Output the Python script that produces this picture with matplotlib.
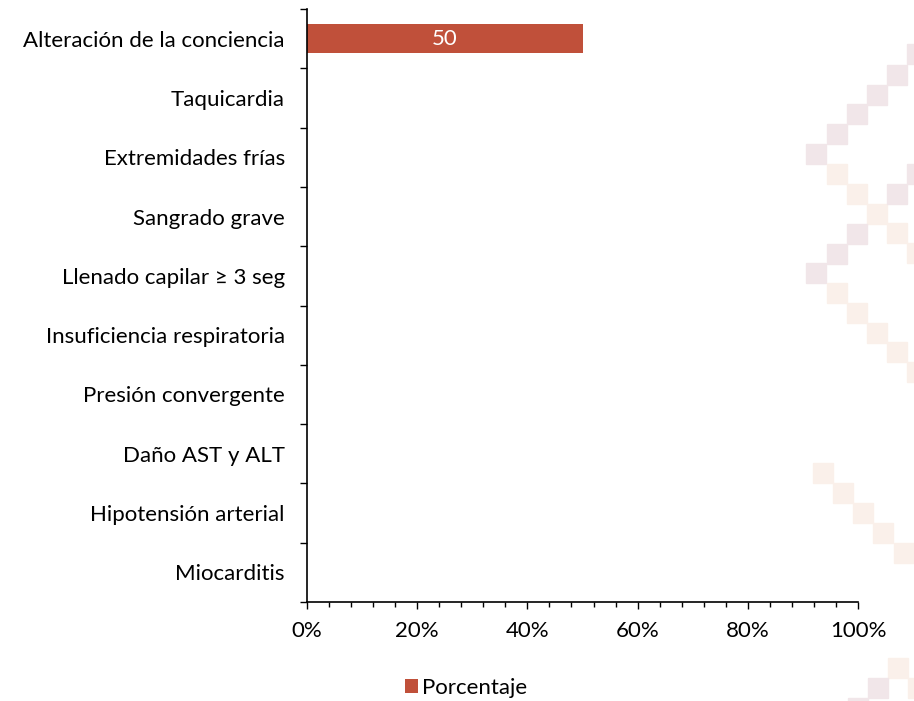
import matplotlib.pyplot as plt
from matplotlib.patches import Rectangle
from matplotlib.ticker import MultipleLocator, FuncFormatter

plt.rcParams['font.family'] = ['Lato', 'DejaVu Sans']

# Data
categories = ["Alteración de la conciencia", "Taquicardia", "Extremidades frías",
              "Sangrado grave", "Llenado capilar ≥ 3 seg", "Insuficiencia respiratoria",
              "Presión convergente", "Daño AST y ALT", "Hipotensión arterial", "Miocarditis"]
values = [50, 0, 0, 0, 0, 0, 0, 0, 0, 0]
series_name = "Porcentaje"

BAR_COLOR = "#C0503A"
PINK = "#F1E6E9"
PEACH = "#FAF0EA"
FS = 16

# background decoration (pixel positions, top-left corners)
deco = [(907, 44, PINK), (887, 65, PINK), (867, 85, PINK), (847, 104, PINK),
        (827, 124, PINK), (806, 144, PINK),
        (827, 164, PEACH), (847, 184, PEACH), (867, 204, PEACH), (887, 223, PEACH),
        (907, 243, PEACH),
        (907, 164, PINK), (887, 184, PINK), (847, 224, PINK), (827, 244, PINK),
        (806, 263, PINK),
        (827, 283, PEACH), (847, 303, PEACH), (867, 323, PEACH), (887, 342, PEACH),
        (907, 362, PEACH),
        (813, 463, PEACH), (833, 483, PEACH), (853, 503, PEACH), (873, 523, PEACH),
        (894, 543, PEACH),
        (888, 658, PEACH), (908, 678, PEACH), (868, 678, PINK), (848, 698, PINK)]

W, H = 914, 701
fig = plt.figure(figsize=(W / 100, H / 100), dpi=100)

for x, y, c in deco:
    fig.patches.append(Rectangle((x / W, 1 - (y + 20) / H), 20 / W, 20 / H,
                                 transform=fig.transFigure, color=c, zorder=0))

ax = fig.add_axes([307 / W, 99 / H, 551 / W, 593 / H])
ax.patch.set_alpha(0)

pos = list(range(len(categories)))
bars = ax.barh(pos, values, height=0.5, color=BAR_COLOR, label=series_name)
for b, v in zip(bars, values):
    if v > 0:
        ax.text(b.get_width() / 2, b.get_y() + b.get_height() / 2, f"{v}",
                ha="center", va="center", color="white", fontsize=FS)

ax.set_xlim(0, 100)
ax.set_ylim(len(categories) - 0.5, -0.5)

ax.xaxis.set_major_locator(MultipleLocator(20))
ax.xaxis.set_minor_locator(MultipleLocator(4))
ax.xaxis.set_major_formatter(FuncFormatter(lambda v, p: f"{int(v)}%"))
ax.tick_params(axis="x", which="major", length=5, width=1, labelsize=FS, pad=9)
ax.tick_params(axis="x", which="minor", length=3.6, width=1)

ax.set_yticks(pos)
ax.set_yticklabels(categories)
ax.set_yticks([p - 0.5 for p in pos] + [len(categories) - 0.5], minor=True)
ax.tick_params(axis="y", which="major", length=0, labelsize=FS, pad=16)
ax.tick_params(axis="y", which="minor", length=5, width=1)

for s in ["top", "right"]:
    ax.spines[s].set_visible(False)
for s in ["left", "bottom"]:
    ax.spines[s].set_linewidth(1.2)

fig.legend(loc="center", bbox_to_anchor=(466 / W, 1 - 688 / H), frameon=False,
           fontsize=FS, handlelength=0.6, handleheight=0.6, handletextpad=0.2)

fig.savefig("out.png", dpi=100)
